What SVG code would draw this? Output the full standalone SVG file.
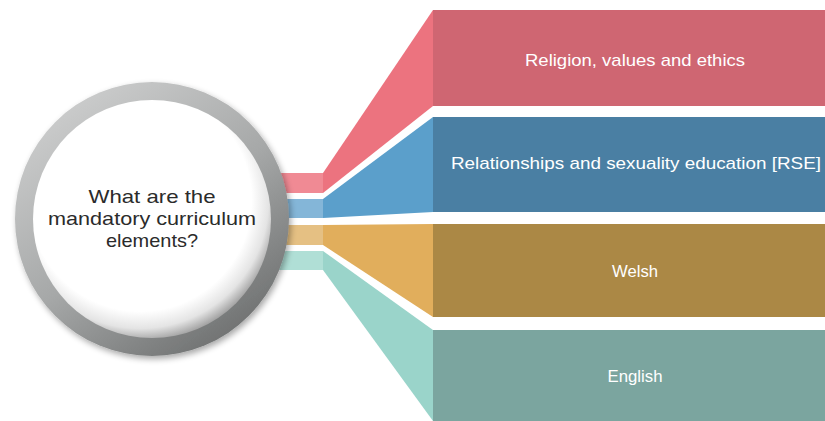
<svg xmlns="http://www.w3.org/2000/svg" width="825" height="421" viewBox="0 0 825 421">
<defs>
<linearGradient id="ring" x1="0.2" y1="0.1" x2="0.8" y2="0.95">
<stop offset="0" stop-color="#c9caca"/>
<stop offset="0.5" stop-color="#a6a8a8"/>
<stop offset="1" stop-color="#6e7070"/>
</linearGradient>
<radialGradient id="inner" cx="0.45" cy="0.42" r="0.6">
<stop offset="0.78" stop-color="#ffffff"/>
<stop offset="0.9" stop-color="#e4e4e4"/>
<stop offset="1" stop-color="#9a9a9a"/>
</radialGradient>
<filter id="sh" x="-10%" y="-10%" width="130%" height="130%">
<feGaussianBlur in="SourceAlpha" stdDeviation="3"/>
<feOffset dx="2" dy="3"/>
<feComponentTransfer><feFuncA type="linear" slope="0.35"/></feComponentTransfer>
<feMerge><feMergeNode/><feMergeNode in="SourceGraphic"/></feMerge>
</filter>
</defs>
<style>
.lbl{font-family:"Liberation Sans","DejaVu Sans",sans-serif;font-size:17px;fill:#ffffff;text-anchor:middle}
.q{font-family:"Liberation Sans","DejaVu Sans",sans-serif;font-size:19px;fill:#2b2b2b;text-anchor:middle}
</style>
<g id="connectors">
<rect x="260" y="173" width="63" height="20" fill="#f08a94"/>
<rect x="260" y="199" width="63" height="19" fill="#84b6d8"/>
<rect x="260" y="225" width="63" height="20" fill="#e5c083"/>
<rect x="260" y="251" width="63" height="19" fill="#b0dfd6"/>
<polygon points="323,173 433,10 433,106 323,193" fill="#ec737f"/>
<polygon points="323,199 433,117 433,212 323,218" fill="#5b9fcb"/>
<polygon points="323,225 433,224 433,317 323,245" fill="#e1ae5c"/>
<polygon points="323,251 433,330 433,421 323,270" fill="#9ad4ca"/>
</g>
<g id="node-religion">
<rect x="433" y="10" width="392" height="96" fill="#cf6672"/>
<text class="lbl" x="635" y="66" textLength="220" lengthAdjust="spacingAndGlyphs">Religion, values and ethics</text>
</g>
<g id="node-rse">
<rect x="433" y="117" width="392" height="95" fill="#4a7fa3"/>
<text class="lbl" x="636" y="169" textLength="370" lengthAdjust="spacingAndGlyphs">Relationships and sexuality education [RSE]</text>
</g>
<g id="node-welsh">
<rect x="433" y="224" width="392" height="93" fill="#ab8845"/>
<text class="lbl" x="635" y="277" textLength="46" lengthAdjust="spacingAndGlyphs">Welsh</text>
</g>
<g id="node-english">
<rect x="433" y="330" width="392" height="91" fill="#7ba59f"/>
<text class="lbl" x="635" y="382" textLength="55" lengthAdjust="spacingAndGlyphs">English</text>
</g>
<g id="node-center">
<circle cx="152" cy="219" r="137" fill="url(#ring)" filter="url(#sh)"/>
<circle cx="152" cy="219" r="119" fill="url(#inner)"/>
<text class="q" x="152" y="203" textLength="127" lengthAdjust="spacingAndGlyphs">What are the</text>
<text class="q" x="152" y="225" textLength="208" lengthAdjust="spacingAndGlyphs">mandatory curriculum</text>
<text class="q" x="152" y="247" textLength="92" lengthAdjust="spacingAndGlyphs">elements?</text>
</g>
</svg>
